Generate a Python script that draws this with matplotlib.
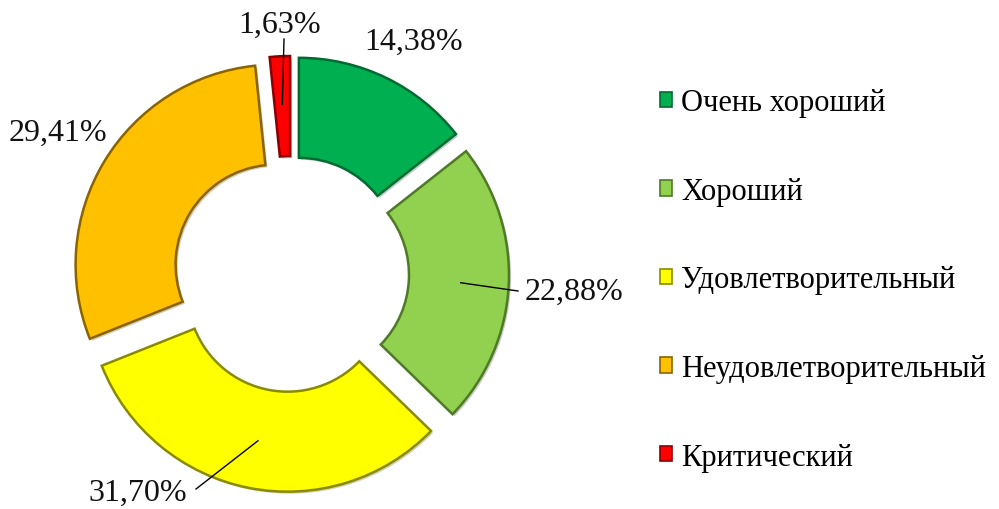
import numpy as np
import matplotlib
matplotlib.use("Agg")
import matplotlib.pyplot as plt
import matplotlib.patheffects as pe
from matplotlib.patches import Patch

plt.rcParams['font.family'] = ['Liberation Serif', 'DejaVu Serif']

categories = ['Очень хороший', 'Хороший', 'Удовлетворительный',
              'Неудовлетворительный', 'Критический']
values = [14.38, 22.88, 31.70, 29.41, 1.63]
value_labels = ['14,38%', '22,88%', '31,70%', '29,41%', '1,63%']

colors = ['#00B050', '#92D050', '#FFFF00', '#FFC000', '#FF0000']
edge_colors = ['#006B30', '#4E7A26', '#8A8A00', '#8A6400', '#8A0000']

# figure pixels: donut centre and outer radius
W, H = 999, 510
cx, cy, R = 291, 275, 200
explode = 18 / R

fig = plt.figure(figsize=(W / 100, H / 100), dpi=100)
ax = fig.add_axes([0, 0, 1, 1])

wedges, _ = ax.pie(values, colors=colors, startangle=90, counterclock=False,
                   explode=[explode] * len(values),
                   wedgeprops=dict(width=0.5, linewidth=1.8))
for w, ec in zip(wedges, edge_colors):
    w.set_edgecolor(ec)
    w.set_path_effects([pe.SimplePatchShadow(offset=(1.5, -1.5), alpha=0.25),
                        pe.Normal()])

# pie() resets the limits, so set them afterwards
ax.set_xlim(-cx / R, (W - cx) / R)
ax.set_ylim(-(H - cy) / R, cy / R)
ax.set_aspect('equal')
ax.axis('off')

# text positions (data units) and whether a leader line is drawn
label_pos = [(0.615, 1.165), (1.17, -0.085), (-0.52, -1.09),
             (-1.165, 0.71), (-0.055, 1.25)]
label_ha = ['center', 'left', 'right', 'center', 'center']
leader = [False, True, True, False, True]
line_end = [None, (1.135, -0.085), (-0.475, -1.075), None, (-0.035, 1.175)]

for i, w in enumerate(wedges):
    mid = np.deg2rad((w.theta1 + w.theta2) / 2)
    wx, wy = w.center
    start = (wx + 0.76 * np.cos(mid), wy + 0.76 * np.sin(mid))
    if leader[i]:
        ax.plot([start[0], line_end[i][0]], [start[1], line_end[i][1]],
                color='black', lw=1.0)
    ax.text(label_pos[i][0], label_pos[i][1], value_labels[i], fontsize=23,
            ha=label_ha[i], va='center', color='#111111')

handles = [Patch(facecolor=c, edgecolor=ec, linewidth=1.2)
           for c, ec in zip(colors, edge_colors)]
fig.legend(handles, categories, loc='upper left',
           bbox_to_anchor=(645 / W, 1 - 74 / H), frameon=False,
           fontsize=22, handlelength=0.39, handleheight=0.39,
           handletextpad=0.29, labelspacing=1.95, borderpad=0)

fig.savefig('out.png', dpi=100)
